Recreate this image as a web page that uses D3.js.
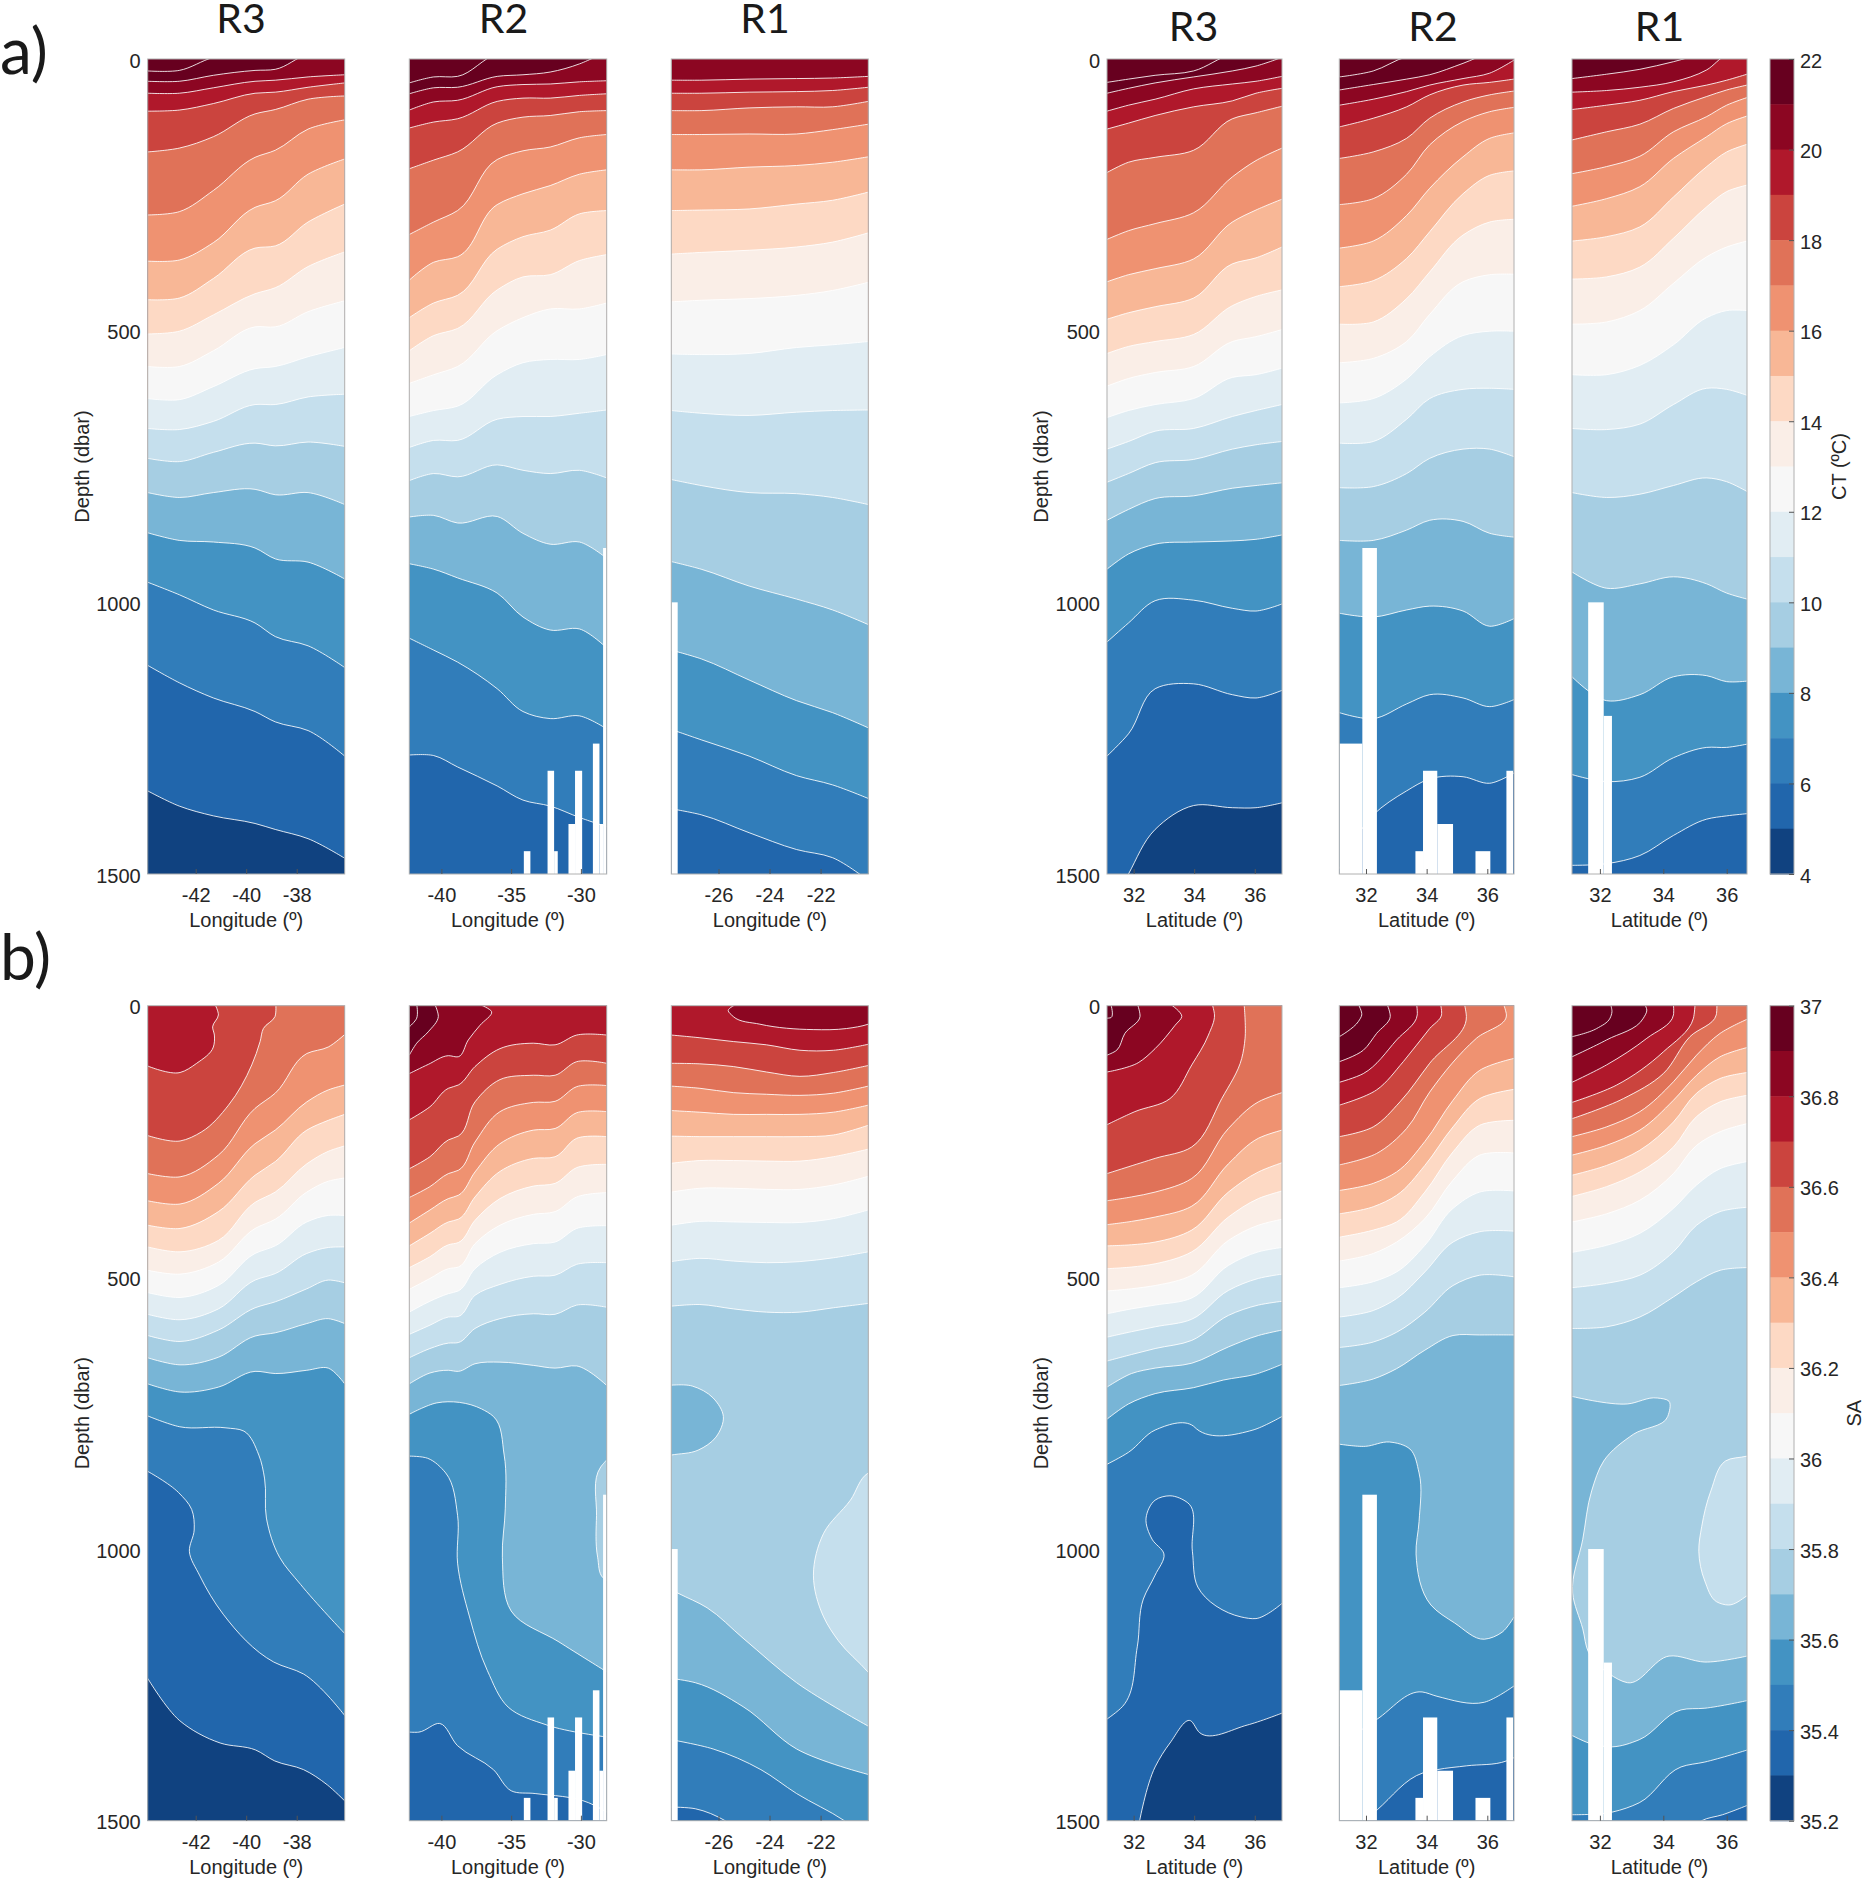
<!DOCTYPE html>
<html>
<head>
<meta charset="utf-8">
<title>CT and SA sections</title>
<script src="https://cdn.jsdelivr.net/npm/d3@7"></script>
<style>
body { margin: 0; background: #fff; }
text { font-family: "Liberation Sans", Arial, sans-serif; fill: #262626; }
.title, .tag { font-family: Lato, sans-serif; fill: #1a1a1a; }
</style>
</head>
<body>
<div id="chart"></div>
<script>
// colour bands, warm to cold, same 18 steps for CT and SA
const bandColors = ['#67001f', '#8c0622', '#b0182b', '#cb443e', '#e07258', '#ef9271', '#f8b796', '#fdd9c4', '#faeee7',
    '#f7f7f7', '#e1edf3', '#c5dfed', '#a6cee3', '#78b5d6', '#4393c3', '#317dba', '#2166ac', '#104280'];

const depthTicks = [0, 500, 1000, 1500];
const ctTicks = [4, 6, 8, 10, 12, 14, 16, 18, 20, 22];
const saTicks = [35.2, 35.4, 35.6, 35.8, 36, 36.2, 36.4, 36.6, 36.8, 37];

const lonR3Domain = [-43.9, -36.1], lonR2Domain = [-42.3, -28.15], lonR1Domain = [-27.85, -20.13];
const latR3Domain = [31.12, 36.9], latR2Domain = [31.12, 36.88], latR1Domain = [31.12, 36.64];
const lonR3Ticks = [-42, -40, -38], lonR2Ticks = [-40, -35, -30], lonR1Ticks = [-26, -24, -22], latTicks = [32, 34, 36];

// bathymetry gaps: [from, to, top depth]
const lonR2Gaps = [[-34.09, -33.62, 1458], [-32.39, -31.92, 1310], [-31.92, -31.66, 1458], [-30.89, -30.42, 1408],
    [-30.42, -29.91, 1310], [-29.14, -28.67, 1260], [-28.67, -28.41, 1408], [-28.41, -28.15, 900]];
const lonR1Gaps = [[-27.85, -27.6, 1000]];
const latR2Gaps = [[31.12, 31.88, 1260], [31.88, 32.36, 900], [33.63, 33.88, 1458], [33.88, 34.35, 1310],
    [34.35, 34.87, 1408], [35.61, 36.1, 1458], [36.63, 36.85, 1310]];
const latR1Gaps = [[31.63, 32.12, 1000], [32.12, 32.38, 1209]];

// a) CT, isotherm depths at stations (negative = isotherm has left through the surface)
const aR3LonX = [-43.9, -42.65, -41.3, -39.65, -38.85, -37.55, -36.1];
const aR3LonRows = [
    [22, 21, -3, -14, -14, -14, -14],
    [41, 41, 30, 21, 19, -9, -14],
    [63, 63, 53, 41, 39, 33, 29],
    [96, 94, 82, 63, 61, 52, 44],
    [171, 164, 143, 101, 93, 74, 68],
    [287, 281, 242, 181, 168, 129, 112],
    [372, 370, 338, 273, 261, 212, 184],
    [443, 440, 404, 348, 344, 300, 267],
    [506, 501, 471, 432, 421, 382, 355],
    [566, 566, 537, 493, 493, 465, 445],
    [625, 627, 603, 570, 566, 548, 531],
    [680, 682, 667, 636, 636, 622, 617],
    [735, 741, 724, 707, 712, 705, 713],
    [798, 807, 798, 792, 802, 798, 820],
    [872, 886, 889, 900, 920, 926, 957],
    [963, 986, 1014, 1038, 1063, 1080, 1120],
    [1116, 1148, 1176, 1201, 1220, 1236, 1283],
    [1347, 1375, 1393, 1407, 1418, 1435, 1471]
];
const aR2LonX = [-42.3, -40.55, -38.84, -36.0, -34.15, -32.2, -30.1, -28.15];
const aR2LonRows = [
    [44, 33, 32, -9, -14, -14, -14, -14],
    [64, 53, 52, 32, 29, 24, 9, -14],
    [94, 79, 76, 51, 47, 46, 42, 40],
    [127, 116, 110, 78, 72, 72, 67, 64],
    [202, 186, 171, 118, 107, 104, 97, 95],
    [323, 300, 279, 185, 169, 162, 145, 139],
    [407, 374, 364, 268, 248, 233, 212, 204],
    [476, 449, 435, 350, 327, 315, 285, 279],
    [537, 509, 496, 425, 401, 397, 371, 360],
    [597, 581, 566, 500, 476, 460, 460, 449],
    [658, 647, 639, 581, 559, 553, 553, 544],
    [715, 702, 702, 663, 658, 658, 652, 646],
    [776, 763, 769, 747, 757, 763, 757, 771],
    [843, 840, 854, 842, 873, 893, 889, 919],
    [929, 939, 955, 983, 1027, 1051, 1049, 1084],
    [1066, 1088, 1110, 1159, 1201, 1214, 1209, 1233],
    [1281, 1282, 1303, 1338, 1364, 1375, 1396, 1413]
];
const aR1LonX = [-27.85, -26.68, -24.8, -22.94, -21.53, -20.13];
const aR1LonRows = [
    [39, 39, 37, 36, 35, 32],
    [63, 63, 61, 60, 58, 52],
    [95, 95, 90, 88, 88, 78],
    [139, 139, 138, 138, 130, 120],
    [204, 204, 199, 196, 190, 180],
    [279, 278, 276, 267, 260, 245],
    [359, 356, 352, 346, 337, 320],
    [447, 444, 441, 435, 426, 411],
    [543, 544, 542, 531, 526, 520],
    [647, 652, 656, 650, 647, 646],
    [774, 785, 798, 800, 807, 820],
    [925, 939, 970, 994, 1014, 1041],
    [1088, 1104, 1143, 1181, 1203, 1231],
    [1234, 1253, 1283, 1319, 1336, 1361],
    [1380, 1391, 1424, 1455, 1470, 1512]
];
const aR3LatX = [31.12, 31.83, 32.71, 33.98, 35.26, 36.04, 36.9];
const aR3LatRows = [
    [43, 37, 30, 22, -9, -14, -14],
    [63, 54, 44, 33, 22, 13, -3],
    [96, 85, 74, 55, 46, 41, 32],
    [129, 118, 104, 88, 77, 63, 54],
    [209, 190, 181, 168, 110, 99, 87],
    [332, 316, 303, 283, 217, 187, 164],
    [410, 397, 386, 368, 300, 278, 258],
    [479, 467, 456, 440, 377, 366, 346],
    [542, 529, 520, 507, 454, 437, 425],
    [602, 588, 577, 566, 520, 511, 498],
    [660, 647, 636, 625, 586, 581, 569],
    [718, 704, 685, 680, 658, 647, 636],
    [779, 763, 743, 737, 718, 710, 704],
    [849, 829, 809, 804, 790, 785, 780],
    [939, 911, 893, 889, 887, 884, 876],
    [1073, 1038, 997, 996, 1011, 1016, 1003],
    [1283, 1242, 1159, 1150, 1170, 1176, 1162],
    [1578, 1500, 1418, 1374, 1378, 1378, 1369]
];
const aR2LatX = [31.12, 32.24, 33.34, 34.1, 35.2, 36.08, 36.88];
const aR2LatRows = [
    [33, 22, -4, -10, -10, -10, -10],
    [57, 47, 37, 29, 8, -10, -10],
    [85, 74, 60, 48, 36, 26, 2],
    [125, 109, 88, 66, 48, 43, 37],
    [183, 171, 146, 109, 79, 66, 59],
    [268, 257, 212, 158, 115, 97, 89],
    [348, 335, 288, 238, 180, 146, 136],
    [419, 408, 367, 318, 248, 214, 206],
    [488, 484, 441, 392, 324, 300, 295],
    [559, 551, 520, 470, 410, 397, 396],
    [633, 625, 589, 548, 509, 501, 501],
    [707, 704, 663, 625, 608, 606, 608],
    [789, 787, 763, 735, 718, 718, 732],
    [886, 886, 867, 849, 851, 873, 880],
    [1020, 1027, 1014, 1007, 1016, 1044, 1030],
    [1203, 1214, 1187, 1170, 1176, 1192, 1179],
    [1490, 1391, 1347, 1325, 1321, 1333, 1314]
];
const aR1LatX = [31.12, 32.21, 33.26, 34.32, 35.37, 36.0, 36.64];
const aR1LatRows = [
    [36, 28, 19, 5, -10, -10, -10],
    [61, 58, 52, 42, 20, -7, -10],
    [93, 85, 76, 60, 48, 39, 28],
    [149, 134, 120, 91, 69, 57, 48],
    [211, 198, 179, 134, 106, 85, 71],
    [271, 257, 235, 183, 143, 119, 105],
    [335, 327, 309, 254, 198, 171, 157],
    [405, 401, 383, 330, 272, 244, 232],
    [488, 484, 463, 413, 364, 346, 335],
    [581, 581, 564, 526, 476, 463, 463],
    [680, 682, 672, 636, 606, 608, 619],
    [798, 807, 801, 785, 771, 778, 796],
    [944, 974, 966, 953, 966, 983, 994],
    [1137, 1181, 1170, 1137, 1135, 1146, 1145],
    [1317, 1330, 1322, 1286, 1267, 1267, 1261],
    [1484, 1481, 1466, 1429, 1399, 1393, 1389]
];

// b) SA, isohaline depths. Rows of pairs are [position, depth] where a line folds back on itself
const bR3LonX = [-43.9, -42.62, -41.1, -39.65, -38.85, -37.6, -36.75, -36.1];
const bR3LonRows = [
    [[-43.9, 111], [-42.62, 123], [-41.96, 106], [-41.3, 76], [-41.26, 54], [-41.33, 39], [-41.1, 17], [-41.23, -2]],
    [[-43.9, 239], [-42.62, 249], [-41.76, 232], [-40.7, 183], [-39.78, 109], [-39.45, 66], [-39.32, 42], [-38.86, 20], [-38.83, -4]],
    [309, 315, 275, 189, 161, 88, 76, 53],
    [359, 365, 327, 254, 229, 177, 155, 146],
    [404, 410, 379, 312, 287, 229, 211, 200],
    [444, 453, 432, 362, 343, 291, 268, 258],
    [487, 494, 472, 410, 393, 343, 323, 317],
    [528, 537, 515, 456, 442, 398, 386, 386],
    [568, 578, 558, 505, 493, 456, 445, 444],
    [607, 618, 597, 556, 545, 521, 505, 510],
    [648, 661, 647, 608, 602, 585, 576, 585],
    [696, 711, 702, 673, 677, 671, 667, 696],
    [[-43.9, 755], [-42.63, 775], [-40.8, 777], [-40.09, 783], [-39.5, 827], [-39.27, 871], [-39.2, 943], [-38.68, 1015], [-37.85, 1065], [-36.09, 1156]],
    [[-43.9, 857], [-42.68, 896], [-42.16, 927], [-42.06, 965], [-42.25, 1004], [-41.85, 1048], [-40.91, 1120], [-38.91, 1208], [-37.73, 1230], [-36.09, 1307]],
    [[-43.9, 1238], [-42.63, 1316], [-41.03, 1357], [-39.62, 1370], [-38.87, 1390], [-37.73, 1406], [-36.79, 1434], [-36.09, 1464]]
];
const bR2LonX = [-42.3, -40.82, -39.5, -38.79, -37.59, -35.8, -33.41, -31.85, -30.3, -28.15];
const bR2LonRows = [
    [[-42.3, 39], [-41.77, 23], [-41.77, -3]],
    [[-42.3, 91], [-41.77, 69], [-40.94, 48], [-40.22, 20], [-40.46, -2]],
    [[-42.3, 125], [-40.94, 108], [-39.5, 92], [-38.79, 94], [-38.07, 63], [-37.23, 36], [-36.4, 11], [-37.23, -2]],
    [210, 186, 152, 146, 112, 79, 69, 72, 54, 54],
    [300, 278, 247, 240, 177, 136, 128, 128, 103, 106],
    [353, 333, 309, 303, 251, 195, 178, 176, 149, 147],
    [400, 376, 355, 349, 306, 254, 229, 226, 197, 195],
    [442, 419, 398, 393, 352, 305, 281, 278, 244, 241],
    [482, 462, 440, 436, 395, 355, 332, 327, 298, 292],
    [522, 502, 484, 481, 438, 404, 384, 379, 352, 344],
    [564, 544, 530, 525, 484, 454, 438, 435, 410, 405],
    [605, 588, 573, 572, 533, 513, 498, 496, 476, 473],
    [648, 631, 621, 620, 594, 576, 567, 568, 551, 555],
    [696, 676, 671, 673, 659, 656, 662, 667, 663, 699],
    [[-42.3, 752], [-40.33, 731], [-37.13, 742], [-36.27, 756], [-35.5, 827], [-35.42, 926], [-35.63, 1015], [-35, 1114], [-31.57, 1171], [-28.15, 1226]],
    [[-42.3, 829], [-40.98, 833], [-39.69, 860], [-38.84, 938], [-38.84, 1026], [-37.98, 1125], [-36.7, 1224], [-35.21, 1291], [-32.43, 1324], [-28.15, 1346]],
    [[-42.3, 1337], [-41.62, 1337], [-40.12, 1321], [-38.84, 1362], [-36.27, 1406], [-34.99, 1445], [-33.28, 1450], [-29.44, 1467], [-28.15, 1484]]
];
const bR2LonBlobs = [
    [12, [[-28.15, 836], [-28.58, 849], [-28.88, 938], [-28.8, 1015], [-28.41, 1053], [-28, 1060], [-27.8, 900]]]
];
const bR1LonX = [-27.85, -26.73, -25.42, -24.12, -22.81, -21.5, -20.13];
const bR1LonRows = [
    [54, 59, 66, 72, 82, 82, 71],
    [106, 107, 112, 122, 130, 123, 110],
    [148, 152, 160, 163, 165, 161, 148],
    [193, 196, 200, 200, 200, 196, 183],
    [240, 241, 241, 241, 241, 238, 220],
    [290, 285, 285, 286, 286, 278, 264],
    [343, 336, 336, 338, 338, 330, 314],
    [404, 397, 398, 399, 399, 392, 376],
    [471, 465, 470, 473, 471, 464, 453],
    [553, 550, 558, 564, 564, 556, 548],
    [[-27.85, 1075], [-27.6, 1081], [-26.45, 1108], [-25.04, 1164], [-22.94, 1246], [-20.13, 1326]],
    [[-27.85, 1238], [-26.91, 1246], [-25.04, 1290], [-22.94, 1368], [-20.13, 1415]],
    [[-27.85, 1351], [-26.21, 1368], [-24.34, 1406], [-22.94, 1450], [-21.07, 1500], [-20.13, 1533]],
    [[-27.85, 1475], [-26.91, 1478], [-25.74, 1500], [-24.81, 1533], [-20.13, 1600]]
];
const bR1LonBlobs = [
    [1, [[-25.29, -3], [-25.62, 9], [-25.42, 20], [-24.38, 34], [-22.29, 44], [-20.98, 42], [-20.13, 34], [-19.9, 30], [-19.9, -5]]],
    [13, [[-28.2, 700], [-27.03, 700], [-26.21, 722], [-25.81, 756], [-26.1, 794], [-26.8, 818], [-27.85, 827], [-28.2, 830]]],
    [11, [[-19.9, 855], [-20.13, 860], [-20.83, 910], [-21.88, 971], [-22.28, 1048], [-21.88, 1125], [-21.3, 1169], [-20.13, 1227], [-19.9, 1240]]]
];
const bR3LatX = [31.12, 31.93, 32.71, 33.92, 35.13, 36.12, 36.9];
const bR3LatRows = [
    [[31.12, 23], [31.25, 22], [31.25, -2]],
    [[31.12, 91], [31.44, 82], [31.71, 51], [32.21, 20], [32.13, -2]],
    [[31.12, 122], [32.15, 105], [32.71, 79], [33.37, 36], [33.59, 20], [33.23, -2]],
    [[31.12, 219], [32.04, 195], [33.2, 171], [33.92, 109], [34.47, 54], [34.67, 17], [34.6, -2]],
    [[31.12, 309], [32.71, 281], [33.92, 260], [34.91, 171], [35.57, 97], [35.68, 60], [35.65, -2]],
    [359, 352, 343, 318, 226, 177, 160],
    [403, 397, 389, 369, 291, 244, 229],
    [442, 440, 435, 413, 343, 306, 289],
    [484, 481, 475, 453, 389, 355, 341],
    [525, 521, 515, 496, 432, 404, 393],
    [567, 558, 551, 538, 478, 453, 445],
    [610, 600, 591, 577, 524, 502, 494],
    [654, 642, 631, 616, 570, 551, 544],
    [702, 677, 667, 658, 628, 607, 597],
    [[31.12, 761], [31.83, 733], [32.71, 714], [33.98, 703], [34.96, 689], [36.04, 678], [36.9, 660]],
    [[31.12, 844], [31.83, 822], [32.71, 781], [33.98, 774], [34.08, 779], [35.94, 781], [36.9, 756]],
    [[31.12, 1313], [31.63, 1290], [32.12, 1180], [32.32, 1092], [32.71, 1048], [33.0, 1009], [32.61, 982], [32.41, 943], [32.71, 910], [33.2, 902], [33.79, 915], [33.94, 1004], [34.12, 1070], [35.55, 1125], [36.04, 1128], [36.9, 1100]],
    [[32.18, 1505], [32.71, 1401], [33.2, 1357], [33.88, 1316], [34.18, 1338], [35.75, 1324], [36.9, 1302]]
];
const bR2LatX = [31.12, 32.24, 33.01, 33.94, 34.87, 35.75, 36.88];
const bR2LatRows = [
    [[31.12, 57], [31.75, 29], [31.86, 17], [31.75, -2]],
    [[31.12, 103], [31.91, 82], [32.35, 51], [32.8, 20], [32.7, -2]],
    [[31.12, 141], [31.91, 125], [33.01, 63], [33.69, 17], [33.67, -2]],
    [[31.12, 183], [32.35, 155], [33.23, 103], [34.1, 42], [34.49, 17], [34.46, -2]],
    [[31.12, 241], [32.24, 223], [33.12, 177], [34.1, 106], [35.31, 20], [35.25, -2]],
    [[31.12, 293], [32.35, 272], [33.34, 226], [34.1, 159], [35.64, 60], [36.63, 17], [36.54, -2]],
    [340, 327, 306, 250, 174, 119, 97],
    [383, 370, 349, 294, 223, 171, 154],
    [426, 413, 398, 343, 269, 220, 211],
    [470, 456, 435, 392, 321, 275, 271],
    [519, 508, 490, 441, 373, 343, 341],
    [573, 561, 539, 490, 435, 416, 415],
    [629, 619, 601, 564, 515, 496, 499],
    [699, 687, 668, 634, 607, 606, 606],
    [[31.12, 807], [31.98, 811], [32.77, 803], [33.45, 816], [33.75, 860], [33.75, 949], [33.65, 1009], [34.14, 1103], [34.92, 1136], [35.9, 1166], [36.49, 1153], [36.88, 1125]],
    [[31.12, 1362], [32.37, 1313], [33.85, 1263], [34.34, 1271], [35.9, 1282], [36.88, 1252]],
    [[31.12, 1544], [32.37, 1480], [33.88, 1412], [34.35, 1406], [35.32, 1399], [36.63, 1390], [36.88, 1384]]
];
const bR1LatX = [31.12, 32.21, 33.26, 34.32, 35.05, 35.79, 36.64];
const bR1LatRows = [
    [[31.12, 57], [31.9, 42], [32.32, 23], [32.38, 11], [32.34, -2]],
    [[31.12, 94], [32.21, 63], [33.37, 23], [33.48, 8], [33.42, -2]],
    [[31.12, 141], [32.21, 109], [33.48, 60], [34.32, 17], [34.32, -2]],
    [[31.12, 178], [32.53, 146], [34.0, 85], [34.95, 23], [35.0, -2]],
    [[31.12, 208], [32.74, 171], [34.0, 125], [34.84, 57], [35.67, 17], [35.69, -2]],
    [241, 223, 195, 140, 91, 51, 25],
    [275, 257, 229, 174, 128, 94, 77],
    [312, 294, 266, 214, 161, 134, 123],
    [351, 333, 306, 260, 204, 177, 165],
    [398, 383, 358, 309, 257, 232, 217],
    [454, 441, 419, 373, 330, 300, 287],
    [519, 511, 496, 453, 404, 379, 371],
    [594, 591, 573, 536, 508, 487, 482],
    [[31.12, 719], [32.87, 733], [33.81, 722], [34.18, 728], [34.14, 756], [33.05, 789], [32.12, 838], [31.74, 893], [31.46, 982], [31.14, 1081], [31.46, 1147], [31.65, 1191], [32.3, 1230], [32.87, 1246], [34.18, 1197], [35.31, 1208], [36.64, 1197]],
    [[31.12, 1343], [31.65, 1357], [32.4, 1364], [33.24, 1351], [34.56, 1296], [35.31, 1293], [36.64, 1279]],
    [[31.12, 1489], [32.4, 1484], [33.24, 1467], [34.56, 1401], [35.31, 1392], [36.64, 1370]],
    [[34.93, 1511], [35.21, 1500], [35.87, 1489], [36.64, 1472]]
];
const bR1LatBlobs = [
    [11, [[36.9, 825], [36.64, 829], [35.96, 838], [35.5, 893], [35.21, 959], [35.12, 1004], [35.31, 1059], [35.68, 1097], [36.06, 1103], [36.64, 1086], [36.9, 1075]]]
];

const svg = d3.select('#chart').append('svg').attr('width', 1864).attr('height', 1879);

const rowA = [59, 874], rowB = [1005.7, 1820.7];
const colsX = { r3lon: [147.7, 344.7], r2lon: [409.3, 606.7], r1lon: [671.3, 868.3],
    r3lat: [1107, 1282], r2lat: [1339.3, 1514], r1lat: [1572, 1747] };
const lonLabel = 'Longitude (º)', latLabel = 'Latitude (º)';

const panels = [
    { yr: rowA, xr: colsX.r3lon, dom: lonR3Domain, xs: aR3LonX, rows: aR3LonRows, base: 0, first: 0, ticks: lonR3Ticks, label: lonLabel, yAxis: true },
    { yr: rowA, xr: colsX.r2lon, dom: lonR2Domain, xs: aR2LonX, rows: aR2LonRows, base: 0, first: 0, ticks: lonR2Ticks, label: lonLabel, gaps: lonR2Gaps },
    { yr: rowA, xr: colsX.r1lon, dom: lonR1Domain, xs: aR1LonX, rows: aR1LonRows, base: 1, first: 2, ticks: lonR1Ticks, label: lonLabel, gaps: lonR1Gaps },
    { yr: rowA, xr: colsX.r3lat, dom: latR3Domain, xs: aR3LatX, rows: aR3LatRows, base: 0, first: 0, ticks: latTicks, label: latLabel, yAxis: true },
    { yr: rowA, xr: colsX.r2lat, dom: latR2Domain, xs: aR2LatX, rows: aR2LatRows, base: 0, first: 0, ticks: latTicks, label: latLabel, gaps: latR2Gaps },
    { yr: rowA, xr: colsX.r1lat, dom: latR1Domain, xs: aR1LatX, rows: aR1LatRows, base: 0, first: 1, ticks: latTicks, label: latLabel, gaps: latR1Gaps },
    { yr: rowB, xr: colsX.r3lon, dom: lonR3Domain, xs: bR3LonX, rows: bR3LonRows, base: 2, first: 3, ticks: lonR3Ticks, label: lonLabel, yAxis: true },
    { yr: rowB, xr: colsX.r2lon, dom: lonR2Domain, xs: bR2LonX, rows: bR2LonRows, base: 0, first: 0, ticks: lonR2Ticks, label: lonLabel, gaps: lonR2Gaps, blobs: bR2LonBlobs },
    { yr: rowB, xr: colsX.r1lon, dom: lonR1Domain, xs: bR1LonX, rows: bR1LonRows, base: 2, first: 3, ticks: lonR1Ticks, label: lonLabel, gaps: lonR1Gaps, blobs: bR1LonBlobs },
    { yr: rowB, xr: colsX.r3lat, dom: latR3Domain, xs: bR3LatX, rows: bR3LatRows, base: 0, first: 0, ticks: latTicks, label: latLabel, yAxis: true },
    { yr: rowB, xr: colsX.r2lat, dom: latR2Domain, xs: bR2LatX, rows: bR2LatRows, base: 0, first: 0, ticks: latTicks, label: latLabel, gaps: latR2Gaps },
    { yr: rowB, xr: colsX.r1lat, dom: latR1Domain, xs: bR1LatX, rows: bR1LatRows, base: 0, first: 0, ticks: latTicks, label: latLabel, gaps: latR1Gaps, blobs: bR1LatBlobs }
];

const fontSize = 20;

function styleAxis(g) {
    g.select('.domain').remove();
    g.selectAll('.tick line').attr('stroke', '#555').attr('stroke-width', 1);
    g.selectAll('.tick text').attr('font-size', fontSize).attr('fill', '#262626');
}

panels.forEach((p, i) => {
    const x = d3.scaleLinear().domain(p.dom).range(p.xr);
    const y = d3.scaleLinear().domain([0, 1500]).range(p.yr);
    const line = d3.line().x(d => x(d[0])).y(d => y(d[1])).curve(d3.curveCatmullRom.alpha(1));
    const g = svg.append('g');
    const clipId = 'clip' + i;
    g.append('clipPath').attr('id', clipId).append('rect')
        .attr('x', p.xr[0]).attr('y', p.yr[0])
        .attr('width', p.xr[1] - p.xr[0]).attr('height', p.yr[1] - p.yr[0]);
    const inner = g.append('g').attr('clip-path', 'url(#' + clipId + ')');
    inner.append('rect')
        .attr('x', p.xr[0]).attr('y', p.yr[0])
        .attr('width', p.xr[1] - p.xr[0]).attr('height', p.yr[1] - p.yr[0])
        .attr('fill', bandColors[p.base]);

    // each isoline paints everything beneath it, so bands stack from the surface down
    const lines = p.rows.map((row, k) => {
        const pts = Array.isArray(row[0]) ? row : row.map((d, j) => [p.xs[j], d]);
        return { pts, color: p.first + k };
    });
    const x0 = p.dom[0] - 1, x1 = p.dom[1] + 1;
    lines.forEach(l => {
        const last = l.pts[l.pts.length - 1];
        const tail = [[x1, last[1]], [x1, 1700], [x0, 1700], [x0, l.pts[0][1]]]
            .map(c => 'L' + x(c[0]) + ',' + y(c[1])).join('');
        inner.append('path').attr('d', line(l.pts) + tail + 'Z').attr('fill', bandColors[l.color]);
    });
    const blobs = p.blobs || [];
    blobs.forEach(b => {
        inner.append('path').attr('d', line(b[1]) + 'Z').attr('fill', bandColors[b[0]]);
    });
    lines.forEach(l => {
        inner.append('path').attr('d', line(l.pts)).attr('fill', 'none')
            .attr('stroke', '#fff').attr('stroke-width', 1).attr('stroke-opacity', 0.85);
    });
    blobs.forEach(b => {
        inner.append('path').attr('d', line(b[1])).attr('fill', 'none')
            .attr('stroke', '#fff').attr('stroke-width', 1).attr('stroke-opacity', 0.85);
    });

    (p.gaps || []).forEach(m => {
        inner.append('rect')
            .attr('x', x(m[0])).attr('y', y(m[2]))
            .attr('width', x(m[1]) - x(m[0])).attr('height', y(1500) - y(m[2]))
            .attr('fill', '#fff');
    });

    g.append('rect')
        .attr('x', p.xr[0]).attr('y', p.yr[0])
        .attr('width', p.xr[1] - p.xr[0]).attr('height', p.yr[1] - p.yr[0])
        .attr('fill', 'none').attr('stroke', '#b0b0b0').attr('stroke-width', 1);

    g.append('g').attr('transform', 'translate(0,' + p.yr[1] + ')')
        .call(d3.axisBottom(x).tickValues(p.ticks).tickSize(-5).tickPadding(13.8).tickFormat(String))
        .call(styleAxis);
    g.append('text').attr('x', (p.xr[0] + p.xr[1]) / 2).attr('y', p.yr[1] + 53)
        .attr('text-anchor', 'middle').attr('font-size', fontSize).text(p.label);

    if (p.yAxis) {
        g.append('g').attr('transform', 'translate(' + p.xr[0] + ',0)')
            .call(d3.axisLeft(y).tickValues(depthTicks).tickSize(0).tickPadding(7).tickFormat(String))
            .call(styleAxis)
            .selectAll('.tick text').attr('dy', '0.4em');
        g.append('text')
            .attr('transform', 'translate(' + (p.xr[0] - 65) + ',' + (p.yr[0] + p.yr[1]) / 2 + ') rotate(-90)')
            .attr('text-anchor', 'middle').attr('font-size', fontSize).attr('dy', 6)
            .text('Depth (dbar)');
    }
});

// colour bars
function colorbar(yr, dom, ticks, label, labelX) {
    const cx = [1770, 1794];
    const y = d3.scaleLinear().domain(dom).range([yr[1], yr[0]]);
    const step = (dom[1] - dom[0]) / bandColors.length;
    const g = svg.append('g');
    g.selectAll('rect.band').data(bandColors).enter().append('rect')
        .attr('x', cx[0]).attr('width', cx[1] - cx[0])
        .attr('y', (d, i) => y(dom[1] - i * step))
        .attr('height', (d, i) => y(dom[1] - (i + 1) * step) - y(dom[1] - i * step) + 0.5)
        .attr('fill', d => d);
    g.append('rect').attr('x', cx[0]).attr('y', yr[0]).attr('width', cx[1] - cx[0]).attr('height', yr[1] - yr[0])
        .attr('fill', 'none').attr('stroke', '#b0b0b0').attr('stroke-width', 1);
    g.append('g').attr('transform', 'translate(' + cx[1] + ',0)')
        .call(d3.axisRight(y).tickValues(ticks).tickSize(-5).tickPadding(6).tickFormat(d => String(+d.toFixed(1))))
        .call(styleAxis)
        .selectAll('.tick text').attr('dy', '0.4em');
    g.append('text')
        .attr('transform', 'translate(' + labelX + ',' + (yr[0] + yr[1]) / 2 + ') rotate(-90)')
        .attr('text-anchor', 'middle').attr('font-size', fontSize).attr('dy', 6).text(label);
}
colorbar(rowA, [4, 22], ctTicks, 'CT (ºC)', 1840);
colorbar(rowB, [35.2, 37], saTicks, 'SA', 1855);

// section headers
const titleNames = ['R3', 'R2', 'R1', 'R3', 'R2', 'R1'];
const titleX = [241, 503.5, 765, 1193.5, 1433, 1659.5];
const titleY = [33, 33, 33, 41, 41, 41];
titleNames.forEach((t, i) => {
    svg.append('text').attr('class', 'title').attr('x', titleX[i]).attr('y', titleY[i])
        .attr('text-anchor', 'middle').attr('font-size', 41).text(t);
});
svg.append('text').attr('class', 'tag').attr('x', 0).attr('y', 74).attr('font-size', 64).text('a)');
svg.append('text').attr('class', 'tag').attr('x', 0).attr('y', 980).attr('font-size', 64).text('b)');
</script>
</body>
</html>
